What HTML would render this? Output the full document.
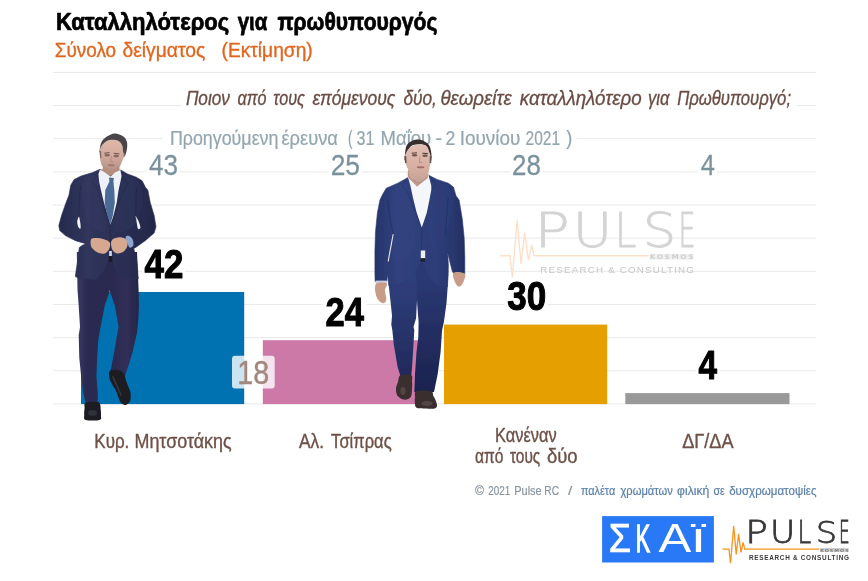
<!DOCTYPE html>
<html lang="el"><head><meta charset="utf-8"><title>Καταλληλότερος για πρωθυπουργός</title>
<style>html,body{margin:0;padding:0;background:#fff}body{width:868px;height:581px;overflow:hidden}</style></head>
<body>
<svg width="868" height="581" viewBox="0 0 868 581" style="display:block">
<defs><filter id="soft" x="-5%" y="-5%" width="110%" height="110%"><feGaussianBlur stdDeviation="0.45"/></filter><linearGradient id="j1" gradientUnits="userSpaceOnUse" x1="58" y1="0" x2="156" y2="0"><stop offset="0" stop-color="#252a4d"/><stop offset="0.3" stop-color="#30355b"/><stop offset="0.62" stop-color="#2b2f54"/><stop offset="1" stop-color="#23274a"/></linearGradient>
<linearGradient id="t1" gradientUnits="userSpaceOnUse" x1="76" y1="0" x2="139" y2="0"><stop offset="0" stop-color="#3b3c66"/><stop offset="0.16" stop-color="#2b2b52"/><stop offset="0.55" stop-color="#2a2a50"/><stop offset="0.8" stop-color="#302f58"/><stop offset="1" stop-color="#262648"/></linearGradient>
<linearGradient id="f1" gradientUnits="userSpaceOnUse" x1="0" y1="140" x2="0" y2="172"><stop offset="0" stop-color="#deb8a9"/><stop offset="0.5" stop-color="#d2aa9b"/><stop offset="1" stop-color="#b08e84"/></linearGradient>
<linearGradient id="j2" gradientUnits="userSpaceOnUse" x1="374" y1="0" x2="466" y2="0"><stop offset="0" stop-color="#26346b"/><stop offset="0.25" stop-color="#30417d"/><stop offset="0.6" stop-color="#2e3e79"/><stop offset="0.85" stop-color="#2a3870"/><stop offset="1" stop-color="#222d60"/></linearGradient>
<linearGradient id="t2" gradientUnits="userSpaceOnUse" x1="0" y1="280" x2="0" y2="395"><stop offset="0" stop-color="#2f3f7c"/><stop offset="0.35" stop-color="#29366e"/><stop offset="1" stop-color="#1e2654"/></linearGradient>
<linearGradient id="t2b" gradientUnits="userSpaceOnUse" x1="0" y1="280" x2="0" y2="395"><stop offset="0" stop-color="#2b3973"/><stop offset="0.4" stop-color="#242f64"/><stop offset="1" stop-color="#1b224e"/></linearGradient>
<linearGradient id="f2" gradientUnits="userSpaceOnUse" x1="0" y1="144" x2="0" y2="184"><stop offset="0" stop-color="#e0bfb2"/><stop offset="0.55" stop-color="#d8b0a3"/><stop offset="1" stop-color="#c2a094"/></linearGradient></defs>
<rect width="868" height="581" fill="#fff"/>
<rect x="53" y="71.90" width="763" height="1" fill="#e9e9e9"/>
<rect x="53" y="105.05" width="763" height="1" fill="#e9e9e9"/>
<rect x="53" y="138.20" width="763" height="1" fill="#e9e9e9"/>
<rect x="53" y="171.35" width="763" height="1" fill="#e9e9e9"/>
<rect x="53" y="204.50" width="763" height="1" fill="#e9e9e9"/>
<rect x="53" y="237.65" width="763" height="1" fill="#e9e9e9"/>
<rect x="53" y="270.80" width="763" height="1" fill="#e9e9e9"/>
<rect x="53" y="303.95" width="763" height="1" fill="#e9e9e9"/>
<rect x="53" y="337.10" width="763" height="1" fill="#e9e9e9"/>
<rect x="53" y="370.25" width="763" height="1" fill="#e9e9e9"/>
<rect x="53" y="403.40" width="763" height="1" fill="#e9e9e9"/>
<rect x="182" y="86" width="615" height="26" fill="#fff"/>
<rect x="162.5" y="126" width="414" height="24" fill="#fff"/>
<rect x="81.0" y="292.0" width="163.2" height="112.10" fill="#0072B2"/>
<rect x="262.8" y="340.2" width="163.2" height="63.90" fill="#CC79A7"/>
<rect x="444.0" y="324.6" width="163.2" height="79.50" fill="#E69F00"/>
<rect x="625.3" y="393.1" width="164.2" height="11.00" fill="#999999"/>
<text font-family="DejaVu Sans Light, DejaVu Sans, sans-serif" font-weight="200" fill="#d4d4d4" stroke-linejoin="miter" ><tspan x="534.63" y="247.09" font-size="48.54" textLength="35.24" lengthAdjust="spacingAndGlyphs" stroke="#d4d4d4" stroke-width="0.77">P</tspan><tspan x="572.69" y="247.09" font-size="48.54" textLength="39.41" lengthAdjust="spacingAndGlyphs" stroke="#d4d4d4" stroke-width="0.77">U</tspan><tspan x="614.74" y="247.09" font-size="48.54" textLength="21.73" lengthAdjust="spacingAndGlyphs" stroke="#d4d4d4" stroke-width="0.77">L</tspan><tspan x="642.89" y="247.09" font-size="47.56" textLength="33.50" lengthAdjust="spacingAndGlyphs" stroke="#d4d4d4" stroke-width="0.77">S</tspan><tspan x="678.45" y="247.09" font-size="48.54" textLength="17.11" lengthAdjust="spacingAndGlyphs" stroke="#d4d4d4" stroke-width="0.77">E</tspan></text>
<path d="M500.0,255.8 L510.0,255.8 L512.3,277.2 L517.2,220.3 L521.0,263.7 L524.7,232.7 L528.4,260.5 L531.6,245.2 L534.1,255.8 L648.6,255.8" fill="none" stroke="#fce0c8" stroke-width="1.38" stroke-linejoin="miter"/>
<rect x="649.6" y="253.9" width="43.9" height="5.7" fill="#f0f0f0"/>
<text transform="translate(649.82,259.44) scale(1.1500,1)" font-family="DejaVu Sans, sans-serif" font-weight="bold" font-size="6.43" letter-spacing="1.349" fill="#d0d0d0" >KOSMOS</text>
<text transform="translate(540.32,272.78) scale(1.0000,1)" font-family="Liberation Sans, sans-serif" font-size="9.78" letter-spacing="1.204" fill="#c6c6c6" >RESEARCH &amp; CONSULTING</text>
<g font-family="Liberation Sans, sans-serif" font-weight="bold" font-size="24.78" fill="#000" stroke="#000" stroke-width="0.7" stroke-linejoin="round">
<text transform="translate(55.92,30.45) scale(0.8889,1)" vector-effect="non-scaling-stroke">Καταλληλότερος</text>
<text transform="translate(237.75,30.45) scale(0.8239,1)" vector-effect="non-scaling-stroke">για</text>
<text transform="translate(277.43,30.45) scale(0.8510,1)" vector-effect="non-scaling-stroke">πρωθυπουργός</text>
</g>
<g font-family="Liberation Sans, sans-serif" font-size="20.36" fill="#E2661E" stroke="#E2661E" stroke-width="0.35" stroke-linejoin="round">
<text transform="translate(54.73,57.43) scale(0.9300,1)" vector-effect="non-scaling-stroke">Σύνολο</text>
<text transform="translate(122.40,57.43) scale(0.9491,1)" vector-effect="non-scaling-stroke">δείγματος</text>
<text transform="translate(221.52,57.43) scale(0.9419,1)" vector-effect="non-scaling-stroke">(Εκτίμηση)</text>
</g>
<g font-family="Liberation Sans, sans-serif" font-style="italic" font-size="19.42" fill="#6A4C44" stroke="#6A4C44" stroke-width="0.3" stroke-linejoin="round">
<text transform="translate(185.88,105.05) scale(0.8861,1)" vector-effect="non-scaling-stroke">Ποιον</text>
<text transform="translate(237.58,105.05) scale(0.8319,1)" vector-effect="non-scaling-stroke">από</text>
<text transform="translate(273.33,105.05) scale(0.8322,1)" vector-effect="non-scaling-stroke">τους</text>
<text transform="translate(312.39,105.05) scale(0.9003,1)" vector-effect="non-scaling-stroke">επόμενους</text>
<text transform="translate(403.38,105.05) scale(0.8903,1)" vector-effect="non-scaling-stroke">δύο,</text>
<text transform="translate(440.47,105.05) scale(0.9622,1)" vector-effect="non-scaling-stroke">θεωρείτε</text>
<text transform="translate(519.87,105.05) scale(0.9678,1)" vector-effect="non-scaling-stroke">καταλληλότερο</text>
<text transform="translate(647.99,105.05) scale(0.8562,1)" vector-effect="non-scaling-stroke">για</text>
<text transform="translate(677.15,105.05) scale(0.8585,1)" vector-effect="non-scaling-stroke">Πρωθυπουργό;</text>
</g>
<g font-family="Liberation Sans, sans-serif" font-size="20.00" fill="#93A6B0" stroke="#93A6B0" stroke-width="0.2" stroke-linejoin="round">
<text transform="translate(169.92,145.30) scale(0.8927,1)" vector-effect="non-scaling-stroke">Προηγούμενη</text>
<text transform="translate(281.46,145.30) scale(0.9156,1)" vector-effect="non-scaling-stroke">έρευνα</text>
<text transform="translate(348.05,145.30) scale(0.6698,1)" vector-effect="non-scaling-stroke">(</text>
<text transform="translate(356.45,145.30) scale(0.8073,1)" vector-effect="non-scaling-stroke">31</text>
<text transform="translate(380.62,145.30) scale(0.9253,1)" vector-effect="non-scaling-stroke">Μαΐου</text>
<text transform="translate(435.47,145.30) scale(0.9796,1)" vector-effect="non-scaling-stroke">-</text>
<text transform="translate(445.47,145.30) scale(0.8846,1)" vector-effect="non-scaling-stroke">2</text>
<text transform="translate(459.65,145.30) scale(0.9454,1)" vector-effect="non-scaling-stroke">Ιουνίου</text>
<text transform="translate(525.57,145.30) scale(0.7758,1)" vector-effect="non-scaling-stroke">2021</text>
<text transform="translate(566.26,145.30) scale(0.9057,1)" vector-effect="non-scaling-stroke">)</text>
</g>
<rect x="146.4" y="152.5" width="33.1" height="25" fill="#fff"/>
<text transform="translate(149.00,175.18) scale(0.8662,1)" font-family="Liberation Sans, sans-serif" font-size="30.07" fill="#7B929D" stroke="#7B929D" stroke-width="0.25" stroke-linejoin="round" vector-effect="non-scaling-stroke" >43</text>
<rect x="328.9" y="152.5" width="32.6" height="25" fill="#fff"/>
<text transform="translate(330.71,175.18) scale(0.8753,1)" font-family="Liberation Sans, sans-serif" font-size="30.07" fill="#7B929D" stroke="#7B929D" stroke-width="0.25" stroke-linejoin="round" vector-effect="non-scaling-stroke" >25</text>
<rect x="510.2" y="152.5" width="32.1" height="25" fill="#fff"/>
<text transform="translate(512.03,175.18) scale(0.8590,1)" font-family="Liberation Sans, sans-serif" font-size="30.07" fill="#7B929D" stroke="#7B929D" stroke-width="0.25" stroke-linejoin="round" vector-effect="non-scaling-stroke" >28</text>
<rect x="698.2" y="152.5" width="18.6" height="25" fill="#fff"/>
<text transform="translate(700.82,175.18) scale(0.8461,1)" font-family="Liberation Sans, sans-serif" font-size="30.07" fill="#7B929D" stroke="#7B929D" stroke-width="0.25" stroke-linejoin="round" vector-effect="non-scaling-stroke" >4</text>
<rect x="142.1" y="247.5" width="42.8" height="33" fill="#fff"/>
<text transform="translate(144.58,277.50) scale(0.8596,1)" font-family="Liberation Sans, sans-serif" font-weight="bold" font-size="40.58" fill="#000" stroke="#000" stroke-width="1.0" stroke-linejoin="round" vector-effect="non-scaling-stroke" >42</text>
<rect x="323.7" y="295.7" width="42.9" height="33" fill="#fff"/>
<text transform="translate(325.49,325.70) scale(0.8498,1)" font-family="Liberation Sans, sans-serif" font-weight="bold" font-size="40.58" fill="#000" stroke="#000" stroke-width="1.0" stroke-linejoin="round" vector-effect="non-scaling-stroke" >24</text>
<rect x="505.1" y="280.1" width="42.6" height="33" fill="#fff"/>
<text transform="translate(507.22,310.10) scale(0.8631,1)" font-family="Liberation Sans, sans-serif" font-weight="bold" font-size="40.58" fill="#000" stroke="#000" stroke-width="1.0" stroke-linejoin="round" vector-effect="non-scaling-stroke" >30</text>
<rect x="695.9" y="348.7" width="23.8" height="33" fill="#fff"/>
<text transform="translate(698.40,378.70) scale(0.8199,1)" font-family="Liberation Sans, sans-serif" font-weight="bold" font-size="40.58" fill="#000" stroke="#000" stroke-width="1.0" stroke-linejoin="round" vector-effect="non-scaling-stroke" >4</text>
<g filter="url(#soft)"><path d="M76.8,252.0L77.5,290.0L78.7,305.7L80.0,327.0L78.7,335.2L79.3,358.0L81.2,377.0L83.0,392.0L85.7,403.5L97.7,403.5L97.7,392.0L96.5,377.0L97.1,358.0L98.4,339.0L100.6,327.0L104.7,305.7L109.8,291.1L113.0,252.0Z" fill="url(#t1)" />
<path d="M106.0,252.0L109.8,291.1L114.8,305.7L118.6,327.0L117.4,332.7L114.2,351.7L111.0,368.2L110.0,372.5L124.0,378.0L125.0,375.8L128.8,364.4L132.6,351.7L137.0,332.7L138.3,320.0L138.9,305.7L138.6,290.0L137.0,252.0Z" fill="url(#t1)" />
<path d="M85.7,402.6C83.5,403.6 84.8,405.9 84.6,408.0C84.3,410.1 84.0,413.2 84.2,415.2C84.4,417.2 83.1,419.1 85.7,419.9C88.3,420.7 97.0,420.7 99.6,419.9C102.1,419.1 100.8,417.2 101.0,415.2C101.2,413.2 100.7,409.7 100.6,408.0C100.5,406.3 100.8,406.0 100.3,405.0C99.8,404.0 100.1,402.4 97.7,402.0C95.3,401.6 87.9,401.6 85.7,402.6Z" fill="#1b1c24" />
<path d="M109.8,370.9C108.4,372.3 109.1,376.1 109.6,378.5C110.0,380.9 111.4,382.9 112.5,385.0C113.6,387.1 114.9,388.4 116.1,391.1C117.3,393.8 118.8,399.1 119.9,401.3C121.1,403.5 122.0,403.7 123.0,404.3C124.0,404.9 125.0,405.3 126.2,404.8C127.4,404.3 129.2,402.8 130.0,401.3C130.8,399.8 130.7,397.7 130.7,396.0C130.7,394.3 130.8,393.6 130.0,391.1C129.2,388.6 127.2,383.9 126.2,381.0C125.2,378.1 125.1,375.2 123.7,373.4C122.3,371.6 120.3,370.4 118.0,370.0C115.7,369.6 111.2,369.5 109.8,370.9Z" fill="#1b1c24" />
<path d="M113,377 L121,395" stroke="#4a4a58" stroke-width="1.6" opacity="0.6" stroke-linecap="round"/>
<ellipse cx="92.5" cy="413" rx="4.5" ry="3" fill="#4a4a58" opacity="0.45"/>
<path d="M100.0,169.3L92.6,172.6L81.0,176.1L74.1,179.5L70.7,185.3L69.0,195.0L66.0,202.7L61.6,215.3L58.8,225.5L59.7,230.6L65.4,235.6L75.5,240.7L85.7,243.7L82.0,245.5L79.3,247.5L77.4,262.0L76.2,270.0L75.3,276.5L79.3,278.4L95.8,279.7L103.4,271.5L108.5,261.3L110.4,258.5L112.3,261.3L117.4,272.7L125.0,278.4L138.3,279.0L137.6,270.0L137.0,262.0L133.8,248.5L136.4,247.0L145.2,240.7L154.1,233.1L156.0,226.8L154.1,215.3L150.3,202.7L147.8,190.0L145.6,187.6L142.1,180.7L136.3,177.2L127.1,173.8L120.8,170.0L110.0,174.0Z" fill="url(#j1)" stroke="#2c3056" stroke-width="0.6" stroke-linejoin="round"/>
<path d="M78.9,216.8C78.4,216.8 77.2,220.2 77.2,222.0C77.2,223.8 78.0,226.6 78.6,227.6C79.2,228.6 80.3,229.1 80.6,228.2C80.9,227.3 80.5,223.9 80.2,222.0C79.9,220.1 79.4,216.8 78.9,216.8Z" fill="#f4f4f6" />
<path d="M135.6,216.0C135.3,216.2 136.2,219.9 136.6,222.0C137.0,224.1 137.4,227.9 138.0,228.8C138.6,229.7 140.3,228.9 140.4,227.6C140.5,226.3 139.2,222.7 138.4,220.8C137.6,218.9 135.9,215.8 135.6,216.0Z" fill="#f4f4f6" />
<path d="M84.0,180.0C86.3,176.0 93.5,174.3 96.0,176.0C98.5,177.7 97.8,184.3 99.0,190.0C100.2,195.7 101.7,203.7 103.0,210.0C104.3,216.3 107.5,224.3 107.0,228.0C106.5,231.7 103.2,233.0 100.0,232.0C96.8,231.0 91.0,227.3 88.0,222.0C85.0,216.7 82.7,207.0 82.0,200.0C81.3,193.0 81.7,184.0 84.0,180.0Z" fill="#343b68" opacity="0.3"/>
<path d="M124.0,176.0C126.8,174.8 134.8,177.0 138.0,181.0C141.2,185.0 143.3,193.2 143.0,200.0C142.7,206.8 139.2,216.7 136.0,222.0C132.8,227.3 127.7,231.0 124.0,232.0C120.3,233.0 115.0,232.5 114.0,228.0C113.0,223.5 116.8,211.7 118.0,205.0C119.2,198.3 120.0,192.8 121.0,188.0C122.0,183.2 121.2,177.2 124.0,176.0Z" fill="#343b68" opacity="0.25"/>
<path d="M80.5,186 L79.2,200 L78.9,216" stroke="#1d2140" stroke-width="0.9" fill="none" opacity="0.55"/>
<path d="M136.5,188 L136,202 L135.6,216" stroke="#1d2140" stroke-width="0.9" fill="none" opacity="0.55"/>
<path d="M98.4,174 L92,182 L97,188 L110.4,226" stroke="#1d2140" stroke-width="0.7" fill="none" opacity="0.5"/>
<path d="M121.6,176 L128,184 L123.5,190 L110.4,226 L110.4,258" stroke="#1d2140" stroke-width="0.7" fill="none" opacity="0.5"/>
<path d="M99.5,152.5C99.2,152.3 99.4,151.3 99.7,149.6C100.0,147.9 100.2,144.6 101.3,142.4C102.4,140.2 104.3,138.2 106.5,136.7C108.7,135.2 112.0,133.5 114.7,133.4C117.5,133.3 121.0,134.9 123.0,136.2C125.0,137.5 126.1,139.3 126.8,141.4C127.5,143.5 127.3,146.2 127.0,148.6C126.7,151.0 125.7,155.3 124.9,156.0C124.1,156.7 123.0,154.4 122.4,152.7C121.9,151.0 122.4,147.9 121.6,146.0C120.8,144.1 119.4,142.1 117.4,141.2C115.4,140.3 111.9,140.1 109.6,140.6C107.3,141.1 104.9,142.3 103.6,144.0C102.3,145.7 102.4,149.6 101.7,151.0C101.0,152.4 99.8,152.7 99.5,152.5Z" fill="#4a454a" />
<path d="M99.7,150.7C99.9,148.4 100.8,147.2 101.5,146.0C102.2,144.8 102.2,144.4 103.6,143.4C104.9,142.4 107.2,140.5 109.6,140.0C112.0,139.5 115.7,139.6 117.8,140.5C119.9,141.4 121.4,143.6 122.3,145.5C123.2,147.4 122.7,150.4 123.2,152.0C123.7,153.6 125.2,153.7 125.2,154.8C125.2,156.0 123.9,157.0 123.0,158.9C122.1,160.8 121.3,164.1 119.9,166.2C118.5,168.3 116.8,170.5 114.7,171.3C112.6,172.2 109.6,172.2 107.5,171.3C105.4,170.5 103.5,168.1 102.3,166.2C101.1,164.3 100.7,162.6 100.3,160.0C99.9,157.4 99.5,153.0 99.7,150.7Z" fill="url(#f1)" />
<path d="M103.5,166.0L108.7,170.5L115.6,169.5L119.3,166.0L119.8,171.5L110.0,176.0L101.5,171.5Z" fill="#b48d7b" />
<ellipse cx="107.2" cy="155.2" rx="2.8" ry="1.4" fill="#6b5048" opacity="0.7"/>
<ellipse cx="116.2" cy="156" rx="2.8" ry="1.4" fill="#6b5048" opacity="0.7"/>
<ellipse cx="111.2" cy="165.2" rx="3.4" ry="1.0" fill="#8e5f55" opacity="0.6"/>
<path d="M111.6,156 L110.6,161.3 L113.2,161.6" fill="none" stroke="#a57f6e" stroke-width="0.9" opacity="0.7"/>
<path d="M104.2,153.2 L109.6,152.6 M113.6,153.2 L119.4,153.8" stroke="#4b3a36" stroke-width="1" fill="none" opacity="0.7"/>
<path d="M100.4,151 L100.8,158 M124.6,150 L124.2,156.5" stroke="#5a5054" stroke-width="1.4" fill="none" opacity="0.7"/>
<path d="M100.0,169.5L98.4,174.0L99.2,182.0L100.9,190.0L104.0,202.7L107.9,215.3L110.4,224.8L113.6,215.3L116.7,202.7L118.6,190.0L120.4,182.0L121.6,176.0L120.4,170.1L115.0,172.5L110.5,176.5L105.0,172.5Z" fill="#eef1f7" />
<path d="M109.0,177.6L113.9,177.9L113.4,181.6L114.3,190.0L114.8,202.7L112.9,215.3L110.4,224.2L107.2,215.3L104.7,202.7L105.3,190.0L109.4,181.6Z" fill="#4c6a95" />
<path d="M90.8,240.0C91.1,238.7 91.5,238.5 93.0,238.2C94.5,237.9 97.8,238.0 100.0,238.3C102.2,238.6 104.3,239.2 106.0,240.0C107.7,240.8 109.5,241.5 110.0,243.0C110.5,244.5 110.0,247.3 109.2,249.0C108.4,250.7 106.7,252.7 105.0,253.4C103.3,254.1 100.8,253.6 99.0,253.0C97.2,252.4 95.3,251.2 94.0,250.0C92.7,248.8 91.5,247.7 91.0,246.0C90.5,244.3 90.5,241.3 90.8,240.0Z" fill="#d5a88f" />
<path d="M111.0,243.0C111.1,241.2 111.8,239.9 113.0,239.0C114.2,238.1 116.2,237.6 118.0,237.4C119.8,237.2 122.4,237.4 124.0,238.0C125.6,238.6 127.0,239.5 127.5,241.0C128.0,242.5 127.8,245.2 127.0,247.0C126.2,248.8 124.7,250.9 123.0,252.0C121.3,253.1 118.8,253.7 117.0,253.4C115.2,253.1 113.5,251.7 112.5,250.0C111.5,248.3 110.9,244.8 111.0,243.0Z" fill="#d5a88f" />
<path d="M125.6,237.2C125.8,236.0 127.8,235.6 129.0,236.0C130.2,236.4 131.9,237.9 132.6,239.5C133.3,241.1 133.8,244.2 133.3,245.5C132.8,246.8 130.6,248.0 129.6,247.6C128.6,247.2 128.3,244.7 127.6,243.0C126.9,241.3 125.4,238.4 125.6,237.2Z" fill="#8fa6d2" />
<rect x="109.2" y="251" width="2.6" height="9" fill="#d9dde6"/>
<rect x="108.6" y="256" width="3.8" height="6" fill="#1d1e28"/></g>
<g filter="url(#soft)"><path d="M388.8,255.0L388.8,285.9L390.7,303.0L392.0,315.7L391.3,324.6L392.3,330.0L393.8,344.6L397.5,366.6L400.4,376.0L411.3,376.0L412.1,366.6L413.5,344.6L414.3,330.0L413.5,327.1L416.1,318.2L416.7,305.6L420.0,255.0Z" fill="url(#t2)" />
<path d="M415.0,255.0L417.3,305.6L418.6,322.0L418.3,337.0L416.5,351.9L415.0,373.9L414.3,392.0L434.0,392.0L437.7,373.9L440.6,351.9L442.1,330.0L443.9,322.0L446.5,303.0L447.7,286.5L447.7,255.0Z" fill="url(#t2b)" />
<path d="M400.4,375.3C398.2,376.4 398.7,379.8 398.0,382.0C397.3,384.2 396.1,386.2 396.0,388.5C395.9,390.8 396.2,393.9 397.5,395.8C398.8,397.7 401.8,399.4 404.0,399.6C406.2,399.9 409.2,399.2 410.6,397.3C412.0,395.4 411.9,390.7 412.1,388.0C412.4,385.3 412.2,383.3 412.1,381.2C412.0,379.1 413.2,376.3 411.3,375.3C409.4,374.3 402.6,374.2 400.4,375.3Z" fill="#3a2f2f" />
<path d="M416.5,391.2C413.8,392.2 415.3,395.0 415.0,397.0C414.7,399.0 414.6,401.3 414.9,403.1C415.1,404.9 414.8,406.8 416.5,407.7C418.2,408.6 421.9,408.3 425.0,408.4C428.1,408.5 432.8,408.9 434.8,408.4C436.8,407.9 436.9,406.7 437.0,405.3C437.1,403.9 436.1,401.6 435.5,400.0C434.9,398.4 434.1,397.3 433.3,395.8C432.6,394.3 433.8,392.0 431.0,391.2C428.2,390.4 419.2,390.2 416.5,391.2Z" fill="#3a2f2f" />
<ellipse cx="403" cy="391" rx="2.6" ry="4" fill="#6a5a58" opacity="0.5"/>
<ellipse cx="427" cy="403.5" rx="5.5" ry="2.4" fill="#6a5a58" opacity="0.5"/>
<path d="M407.2,178.0L397.7,183.2L386.3,188.2L382.5,194.6L379.9,200.0L377.4,212.7L375.5,231.7L374.9,250.7L374.9,272.0L375.1,281.5L386.9,281.5L387.6,274.0L388.8,285.5L395.0,284.7L406.6,281.5L414.2,275.1L419.2,265.0L421.5,261.5L424.3,265.0L429.4,277.7L434.4,284.0L447.4,286.7L448.2,275.0L448.4,265.0L447.5,252.0L445.2,235.5L447.1,250.7L449.6,260.8L452.2,271.0L453.4,273.2L464.8,273.8L464.8,257.0L464.2,238.0L462.3,219.0L459.1,200.0L456.0,195.8L453.4,187.0L448.4,183.2L437.0,179.4L429.4,175.6L420.0,182.0Z" fill="url(#j2)" stroke="#2c3b74" stroke-width="0.6" stroke-linejoin="round"/>
<path d="M393.2,234.2 L391.3,244.4 L389.4,254.5 L388.2,261.5" stroke="#fff" stroke-width="1.1" fill="none" opacity="0.9"/>
<path d="M392.0,190.0C394.5,185.7 402.0,182.3 405.0,184.0C408.0,185.7 408.2,193.2 410.0,200.0C411.8,206.8 415.7,216.7 416.0,225.0C416.3,233.3 415.0,243.8 412.0,250.0C409.0,256.2 401.3,263.7 398.0,262.0C394.7,260.3 393.3,248.7 392.0,240.0C390.7,231.3 390.0,218.3 390.0,210.0C390.0,201.7 389.5,194.3 392.0,190.0Z" fill="#3a5aa0" opacity="0.1"/>
<path d="M432.0,182.0C435.0,178.0 444.5,182.2 448.0,186.0C451.5,189.8 453.3,197.3 453.0,205.0C452.7,212.7 448.8,224.5 446.0,232.0C443.2,239.5 439.0,249.5 436.0,250.0C433.0,250.5 429.0,241.7 428.0,235.0C427.0,228.3 429.3,218.8 430.0,210.0C430.7,201.2 429.0,186.0 432.0,182.0Z" fill="#3a5aa0" opacity="0.1"/>
<path d="M387.5,200 L390,218 L393.2,234.2" stroke="#1b2656" stroke-width="0.9" fill="none" opacity="0.55"/>
<path d="M448,198 L446.5,218 L445.2,235.5" stroke="#1b2656" stroke-width="0.9" fill="none" opacity="0.55"/>
<path d="M407.9,177 L402,186 L407,191 L421.8,227.4 L421.5,261" stroke="#1b2656" stroke-width="0.7" fill="none" opacity="0.5"/>
<path d="M428.8,175.5 L436,184 L431.5,190 L421.8,227.4" stroke="#1b2656" stroke-width="0.7" fill="none" opacity="0.5"/>
<path d="M404.3,160.0C403.6,159.8 404.5,157.9 404.8,155.6C405.1,153.3 405.4,148.6 406.3,146.3C407.2,144.0 408.8,142.8 410.5,141.7C412.2,140.6 414.6,139.7 416.7,139.5C418.8,139.3 420.8,139.5 422.9,140.5C425.0,141.5 427.7,143.3 429.1,145.3C430.5,147.3 430.8,150.1 431.2,152.5C431.6,154.9 431.7,159.8 431.4,160.0C431.1,160.2 430.5,156.0 429.6,153.6C428.7,151.2 428.1,147.4 426.0,145.8C423.9,144.2 419.4,144.0 416.7,144.3C414.0,144.6 411.1,145.3 409.9,147.4C408.6,149.5 410.1,154.9 409.2,157.0C408.3,159.1 405.0,160.2 404.3,160.0Z" fill="#352d2e" />
<path d="M404.3,158.7C404.3,156.9 405.1,154.8 406.0,153.0C406.9,151.2 408.1,149.0 409.9,147.6C411.7,146.2 414.0,144.8 416.7,144.5C419.4,144.2 423.9,144.5 426.0,146.0C428.1,147.5 428.7,151.3 429.6,153.6C430.5,155.9 431.4,157.9 431.5,159.8C431.6,161.7 430.7,162.5 430.1,164.9C429.5,167.3 429.0,171.6 428.0,174.2C427.0,176.8 425.5,179.0 423.9,180.4C422.3,181.8 420.3,183.2 418.2,182.7C416.1,182.2 413.1,179.4 411.5,177.3C409.9,175.2 409.3,172.3 408.4,170.1C407.4,167.9 406.5,165.8 405.8,163.9C405.1,162.0 404.3,160.5 404.3,158.7Z" fill="url(#f2)" />
<path d="M408.4,170.0C408.9,169.9 409.9,175.2 411.5,177.3C413.1,179.4 416.1,182.0 418.2,182.5C420.3,183.0 422.3,181.8 423.9,180.4C425.5,179.0 427.4,174.4 428.0,174.0C428.6,173.6 429.6,176.0 427.8,178.0C426.0,180.0 420.2,186.2 417.0,186.2C413.8,186.2 409.9,180.7 408.5,178.0C407.1,175.3 407.9,170.1 408.4,170.0Z" fill="#bf9685" />
<ellipse cx="414.6" cy="155.3" rx="2.7" ry="1.3" fill="#4c3530" opacity="0.75"/>
<ellipse cx="425" cy="155.7" rx="2.7" ry="1.3" fill="#4c3530" opacity="0.75"/>
<ellipse cx="420.6" cy="167.2" rx="3.8" ry="1.0" fill="#8a4f49" opacity="0.7"/>
<path d="M420,156.5 L419.4,162.3 L422.2,162.5" fill="none" stroke="#a67a68" stroke-width="0.9" opacity="0.7"/>
<path d="M411.6,153.2 L417,152.8 M422.4,153.2 L427.8,153.6" stroke="#2e2322" stroke-width="1.1" fill="none" opacity="0.8"/>
<path d="M405.4,156 L405.8,163 M430.6,156 L430.4,163" stroke="#3a3030" stroke-width="1.6" fill="none" opacity="0.75"/>
<path d="M407.9,176.8L410.4,185.7L413.5,200.0L416.7,212.7L421.8,227.4L426.8,212.7L429.4,200.0L431.3,190.0L431.3,185.7L428.5,175.0L427.4,178.2L417.0,186.4L408.8,178.2Z" fill="#f5f6f9" />
<rect x="420.8" y="250.5" width="4.4" height="8" fill="#eceef4"/>
<rect x="420.4" y="258.2" width="4.8" height="3.6" fill="#1f2233"/>
<rect x="375.6" y="280.6" width="11.3" height="3.2" fill="#c9cde0"/>
<path d="M376.3,283.6C374.4,285.2 375.1,290.1 375.5,292.9C375.9,295.7 377.3,298.8 378.7,300.5C380.1,302.2 382.4,303.4 383.7,303.2C385.0,303.0 386.1,301.3 386.3,299.2C386.5,297.1 384.9,292.9 385.0,290.3C385.1,287.7 388.1,284.7 386.7,283.6C385.2,282.5 378.2,282.1 376.3,283.6Z" fill="#c99c88" />
<path d="M453.6,272.8C451.9,274.1 453.8,279.2 454.7,281.5C455.6,283.8 457.6,286.7 459.1,286.7C460.6,286.7 462.7,283.7 463.6,281.5C464.5,279.3 466.4,275.1 464.7,273.6C463.0,272.2 455.3,271.5 453.6,272.8Z" fill="#c99c88" /></g>
<rect x="232.0" y="355.8" width="42.7" height="32.8" rx="3" fill="#fff" fill-opacity="0.8"/>
<text transform="translate(237.24,383.50) scale(0.8623,1)" font-family="Liberation Sans, sans-serif" font-size="33.33" fill="#A1887F" stroke="#A1887F" stroke-width="0.4" stroke-linejoin="round" vector-effect="non-scaling-stroke" >18</text>
<g font-family="Liberation Sans, sans-serif" font-size="19.64" fill="#6E5047" stroke="#6E5047" stroke-width="0.35" stroke-linejoin="round">
<text transform="translate(94.31,447.72) scale(0.8662,1)" vector-effect="non-scaling-stroke">Κυρ.</text>
<text transform="translate(134.49,447.72) scale(0.9116,1)" vector-effect="non-scaling-stroke">Μητσοτάκης</text>
</g>
<g font-family="Liberation Sans, sans-serif" font-size="19.64" fill="#6E5047" stroke="#6E5047" stroke-width="0.35" stroke-linejoin="round">
<text transform="translate(298.93,447.72) scale(0.8827,1)" vector-effect="non-scaling-stroke">Αλ.</text>
<text transform="translate(331.09,447.72) scale(0.8426,1)" vector-effect="non-scaling-stroke">Τσίπρας</text>
</g>
<g font-family="Liberation Sans, sans-serif" font-size="19.57" fill="#6E5047" stroke="#6E5047" stroke-width="0.35" stroke-linejoin="round">
<text transform="translate(495.11,442.43) scale(0.8387,1)" vector-effect="non-scaling-stroke">Κανέναν</text>
</g>
<g font-family="Liberation Sans, sans-serif" font-size="19.64" fill="#6E5047" stroke="#6E5047" stroke-width="0.35" stroke-linejoin="round">
<text transform="translate(475.05,462.93) scale(0.7923,1)" vector-effect="non-scaling-stroke">από</text>
<text transform="translate(509.94,462.93) scale(0.7864,1)" vector-effect="non-scaling-stroke">τους</text>
<text transform="translate(546.94,462.93) scale(0.9395,1)" vector-effect="non-scaling-stroke">δύο</text>
</g>
<g font-family="Liberation Sans, sans-serif" font-size="19.49" fill="#6E5047" stroke="#6E5047" stroke-width="0.35" stroke-linejoin="round">
<text transform="translate(682.13,447.93) scale(0.9326,1)" vector-effect="non-scaling-stroke">ΔΓ/ΔΑ</text>
</g>
<g font-family="Liberation Sans, sans-serif" font-size="13.19" fill="#8996A0" stroke="#8996A0" stroke-width="0.2" stroke-linejoin="round">
<text transform="translate(474.92,495.30) scale(0.9196,1)" vector-effect="non-scaling-stroke">©</text>
<text transform="translate(488.36,495.30) scale(0.7493,1)" vector-effect="non-scaling-stroke">2021</text>
<text transform="translate(514.22,495.30) scale(0.8317,1)" vector-effect="non-scaling-stroke">Pulse</text>
<text transform="translate(544.28,495.30) scale(0.7754,1)" vector-effect="non-scaling-stroke">RC</text>
<text transform="translate(568.10,495.30) scale(1.1644,1)" vector-effect="non-scaling-stroke">/</text>
</g>
<g font-family="Liberation Sans, sans-serif" font-size="13.19" fill="#5B80AA" stroke="#5B80AA" stroke-width="0.2" stroke-linejoin="round">
<text transform="translate(580.92,495.30) scale(0.8233,1)" vector-effect="non-scaling-stroke">παλέτα</text>
<text transform="translate(620.49,495.30) scale(0.8465,1)" vector-effect="non-scaling-stroke">χρωμάτων</text>
<text transform="translate(677.11,495.30) scale(0.9251,1)" vector-effect="non-scaling-stroke">φιλική</text>
<text transform="translate(713.43,495.30) scale(0.7999,1)" vector-effect="non-scaling-stroke">σε</text>
<text transform="translate(729.14,495.30) scale(0.8779,1)" vector-effect="non-scaling-stroke">δυσχρωματοψίες</text>
</g>
<rect x="602.1" y="516.1" width="111.8" height="46.4" fill="#2979F6"/>
<text font-family="Liberation Sans, sans-serif" fill="#fff" stroke-linejoin="miter" ><tspan x="608.74" y="551.95" font-size="40.14" textLength="22.40" lengthAdjust="spacingAndGlyphs" stroke="#fff" stroke-width="0.70">Σ</tspan><tspan x="635.84" y="551.55" font-size="38.99" textLength="14.27" lengthAdjust="spacingAndGlyphs" stroke="#fff" stroke-width="1.50">Κ</tspan><tspan x="658.40" y="552.30" font-size="41.16" textLength="32.80" lengthAdjust="spacingAndGlyphs">Α</tspan><tspan x="690.72" y="552.30" font-size="34.01" textLength="15.43" lengthAdjust="spacingAndGlyphs">Ϊ</tspan></text>
<text font-family="DejaVu Sans Light, DejaVu Sans, sans-serif" font-weight="200" fill="#383838" stroke-linejoin="miter" ><tspan x="745.31" y="543.40" font-size="31.23" textLength="22.54" lengthAdjust="spacingAndGlyphs" stroke="#383838" stroke-width="0.80">P</tspan><tspan x="770.10" y="543.40" font-size="31.23" textLength="25.26" lengthAdjust="spacingAndGlyphs" stroke="#383838" stroke-width="0.80">U</tspan><tspan x="797.54" y="543.40" font-size="31.23" textLength="13.76" lengthAdjust="spacingAndGlyphs" stroke="#383838" stroke-width="0.80">L</tspan><tspan x="815.86" y="543.40" font-size="30.60" textLength="21.43" lengthAdjust="spacingAndGlyphs" stroke="#383838" stroke-width="0.80">S</tspan><tspan x="839.07" y="543.40" font-size="31.23" textLength="10.70" lengthAdjust="spacingAndGlyphs" stroke="#383838" stroke-width="0.80">E</tspan></text>
<path d="M722.5,549.2 L729.0,549.2 L730.5,563.2 L733.7,526.1 L736.2,554.4 L738.6,534.2 L741.0,552.3 L743.1,542.3 L744.7,549.2 L819.4,549.2" fill="none" stroke="#F7941D" stroke-width="1.30" stroke-linejoin="miter"/>
<rect x="820.0" y="548.0" width="28.6" height="3.7" fill="#cfcfcf"/>
<text transform="translate(820.17,551.60) scale(1.1500,1)" font-family="DejaVu Sans, sans-serif" font-weight="bold" font-size="4.19" letter-spacing="0.880" fill="#7a7a7a" >KOSMOS</text>
<text transform="translate(748.89,560.30) scale(1.0000,1)" font-family="Liberation Sans, sans-serif" font-weight="bold" font-size="6.38" letter-spacing="0.724" fill="#383838" >RESEARCH &amp; CONSULTING</text>
</svg>
</body></html>
